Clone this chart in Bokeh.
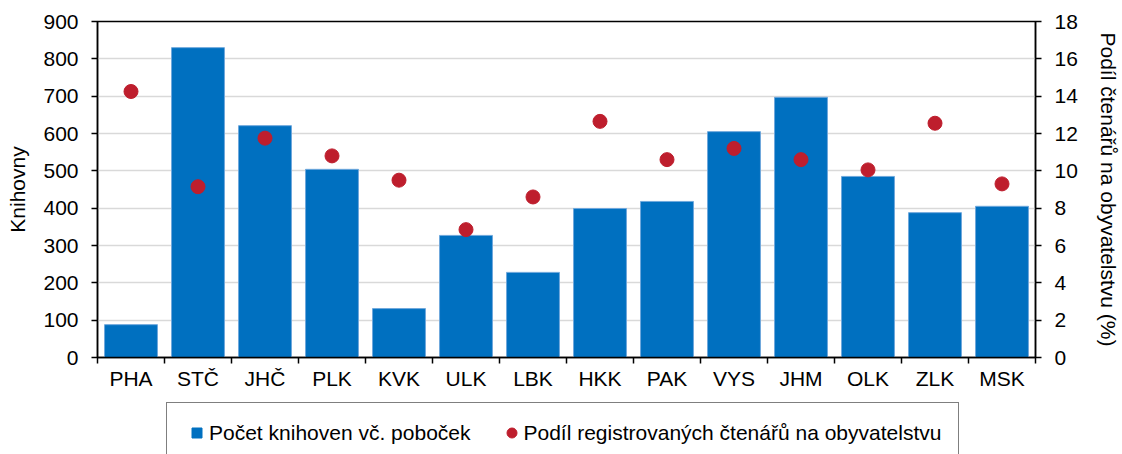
from bokeh.plotting import figure
from bokeh.layouts import column
from bokeh.models import (Range1d, LinearAxis, FixedTicker, ColumnDataSource, Legend, LegendItem)
from bokeh.embed import file_html
from bokeh.resources import INLINE

kraje = ["PHA", "STČ", "JHČ", "PLK", "KVK", "ULK", "LBK", "HKK", "PAK", "VYS", "JHM", "OLK", "ZLK", "MSK"]
knihovny = [88, 830, 621, 504, 131, 327, 228, 399, 418, 605, 697, 485, 388, 405]
podil = [14.25, 9.15, 11.75, 10.8, 9.5, 6.85, 8.6, 12.65, 10.6, 11.2, 10.6, 10.05, 12.55, 9.3]
left_ticks = [0, 100, 200, 300, 400, 500, 600, 700, 800, 900]
right_ticks = [0, 2, 4, 6, 8, 10, 12, 14, 16, 18]
label_bars = "Počet knihoven vč. poboček"
label_dots = "Podíl registrovaných čtenářů na obyvatelstvu"
ylabel_left = "Knihovny"
ylabel_right = "Podíl čtenářů na obyvatelstvu (%)"

FONT = "Liberation Sans"
FS = "21px"
BLUE = "#0070C0"
RED = "#BE1E2D"

n = len(kraje)
centers = [i + 0.5 for i in range(n)]
edges = list(range(n + 1))

p = figure(width=1122, height=400, output_backend="svg", toolbar_location=None,
           x_range=Range1d(0, n), y_range=Range1d(0, 900),
           min_border_left=97, min_border_right=82, min_border_top=21, min_border_bottom=43)
p.extra_y_ranges = {"right": Range1d(0, 18)}

p.outline_line_color = "black"
p.outline_line_width = 1.5
p.xgrid.grid_line_color = None
p.ygrid.grid_line_color = "#D9D9D9"
p.ygrid.grid_line_width = 1.5
p.ygrid.ticker = FixedTicker(ticks=left_ticks)

src = ColumnDataSource(dict(x=centers, kraj=kraje, knihovny=knihovny, podil=podil))
p.vbar(x="x", top="knihovny", width=0.79, source=src, fill_color=BLUE,
       line_color="#6FA8DC", line_width=1)
p.scatter(x="x", y="podil", source=src, y_range_name="right", size=14,
          fill_color=RED, line_color=RED)

ya = p.yaxis[0]
ya.ticker = FixedTicker(ticks=left_ticks)
ya.axis_label = ylabel_left

ra = LinearAxis(y_range_name="right", ticker=FixedTicker(ticks=right_ticks), axis_label=ylabel_right)
p.add_layout(ra, "right")

xa = p.xaxis[0]
xa.ticker = FixedTicker(ticks=centers, minor_ticks=edges)
xa.major_label_overrides = {c: k for c, k in zip(centers, kraje)}

for ax in [ya, ra, xa]:
    ax.axis_line_color = "black"
    ax.axis_line_width = 1.5
    ax.major_tick_line_color = "black"
    ax.major_tick_line_width = 1.5
    ax.major_tick_in = 0
    ax.major_tick_out = 6
    ax.minor_tick_line_color = None
    ax.major_label_text_font = FONT
    ax.major_label_text_font_size = FS
    ax.major_label_text_color = "black"
    ax.axis_label_text_font = FONT
    ax.axis_label_text_font_size = FS
    ax.axis_label_text_font_style = "normal"
    ax.axis_label_text_color = "black"

xa.major_tick_line_color = None
xa.minor_tick_line_color = "black"
xa.minor_tick_line_width = 1.5
xa.minor_tick_in = 0
xa.minor_tick_out = 6
xa.major_label_standoff = 3
ya.major_label_standoff = 13
ya.axis_label_standoff = 11
ra.major_label_standoff = 13
ra.axis_label_standoff = 16

# legend strip
lg = figure(width=1122, height=54, output_backend="svg", toolbar_location=None,
            x_range=Range1d(0, 1), y_range=Range1d(0, 1),
            x_axis_location=None, y_axis_location=None, min_border=0)
lg.outline_line_color = None
lg.xgrid.grid_line_color = None
lg.ygrid.grid_line_color = None
offscreen = ColumnDataSource(dict(x=[-5], y=[-5]))
r1 = lg.scatter(x="x", y="y", source=offscreen, marker="square", size=10, fill_color=BLUE, line_color=BLUE)
r2 = lg.scatter(x="x", y="y", source=offscreen, marker="circle", size=10, fill_color=RED, line_color=RED)
legend = Legend(items=[LegendItem(label=label_bars, renderers=[r1]),
                       LegendItem(label=label_dots, renderers=[r2])],
                orientation="horizontal", location=(69, -9),
                glyph_width=25, glyph_height=25, label_standoff=0, spacing=28,
                padding=17, margin=0, border_line_color="black", border_line_width=1,
                label_text_font=FONT, label_text_font_size=FS, label_text_color="black",
                background_fill_alpha=1)
lg.add_layout(legend, "center")

layout = column(p, lg, spacing=0)
open("out.html", "w").write(file_html(layout, INLINE))
